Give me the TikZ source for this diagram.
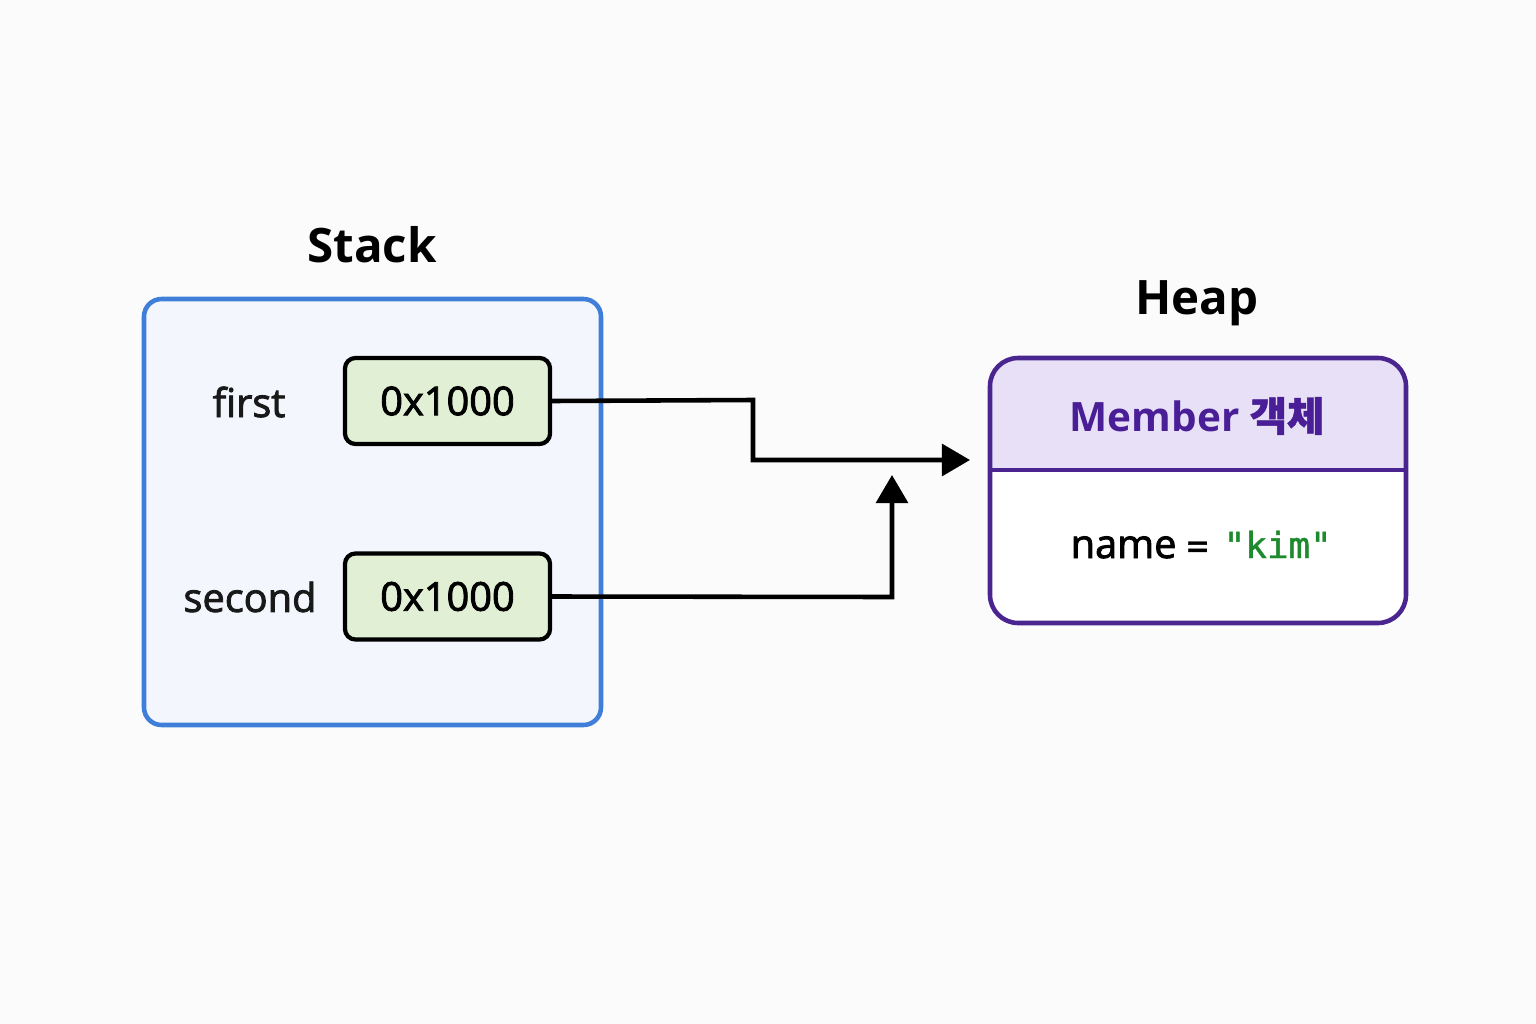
\documentclass[tikz,border=0pt]{standalone}
\usepackage{fontspec}
\setmainfont{Open Sans}
\newfontfamily\medfont{Open Sans}[FakeBold=2.2]
\newfontfamily\cjk{Noto Sans CJK KR}[FakeBold=1.2]
\newfontfamily\monof{DejaVu Sans Mono}[FakeBold=1.2]
\usetikzlibrary{arrows.meta}
\definecolor{bgc}{HTML}{FBFBFB}
\definecolor{stackborder}{HTML}{3F7FD9}
\definecolor{stackfill}{HTML}{F3F7FD}
\definecolor{valfill}{HTML}{E1F0D4}
\definecolor{heapborder}{HTML}{4A2590}
\definecolor{heaphead}{HTML}{E7E0F6}
\definecolor{heaptext}{HTML}{4A1E96}
\definecolor{kimgreen}{HTML}{1E8A2E}
\tikzset{
  px/.style={x=0.01cm,y=-0.01cm},
  title/.style={font=\fontsize{13.5}{16}\selectfont\bfseries, text=black},
  valbox/.style={draw=black, line width=1.2pt, fill=valfill, rounded corners=3pt, minimum width=2.05cm, minimum height=0.86cm, font=\fontsize{11.3}{14}\selectfont\medfont},
  varlabel/.style={font=\fontsize{11.3}{14}\selectfont\medfont, text=black!90},
  ptr/.style={draw=black, line width=1.3pt, -{Triangle[length=8pt,width=9pt]}}
}
\begin{document}
\begin{tikzpicture}[px]
\useasboundingbox (0,0) rectangle (1536,1024);
\fill[bgc] (0,0) rectangle (1536,1024);
% Stack
\node[title] (stacktitle) at (372,245) {Stack};
\draw[stackborder, fill=stackfill, line width=1.3pt, rounded corners=5pt] (144,299) rectangle (601,725);
\node[varlabel] (firstlbl) at (249,402) {first};
\node[varlabel] (secondlbl) at (250,597) {second};
\node[valbox] (v1) at (447.5,401) {0x1000};
\node[valbox] (v2) at (447.5,596.5) {0x1000};
% Heap
\node[title] (heaptitle) at (1197,303) {Heap};
\fill[white, rounded corners=8pt] (990,358) rectangle (1406,623);
\begin{scope}
\clip[rounded corners=8pt] (990,358) rectangle (1406,623);
\fill[heaphead] (990,358) rectangle (1406,470);
\end{scope}
\draw[heapborder, line width=1.3pt, rounded corners=8pt] (990,358) rectangle (1406,623);
\draw[heapborder, line width=1.3pt] (990,470) -- (1406,470);
\node[font=\fontsize{11.5}{14}\selectfont, text=heaptext] (hhead) at (1197,416) {\bfseries Member {\cjk 객체}};
\node[font=\fontsize{11.3}{14}\selectfont\medfont, anchor=base west, inner sep=0pt] (fname) at (1070,558) {name};
\node[font=\fontsize{10.2}{14}\selectfont\monof, anchor=base west, inner sep=0pt] (feq) at (1186,558) {=};
\node[font=\fontsize{10.2}{14}\selectfont\monof, anchor=base west, inner sep=0pt, text=kimgreen] (fkim) at (1223,558) {"kim"};
\coordinate (t1) at (970,460);
\coordinate (t2) at (892,475);
% Pointers
\draw[ptr] (v1.east) -- (753,400) -- (753,460) -- (t1);
\draw[ptr] (v2.east) -- (892,597) -- (t2);
\end{tikzpicture}
\end{document}
